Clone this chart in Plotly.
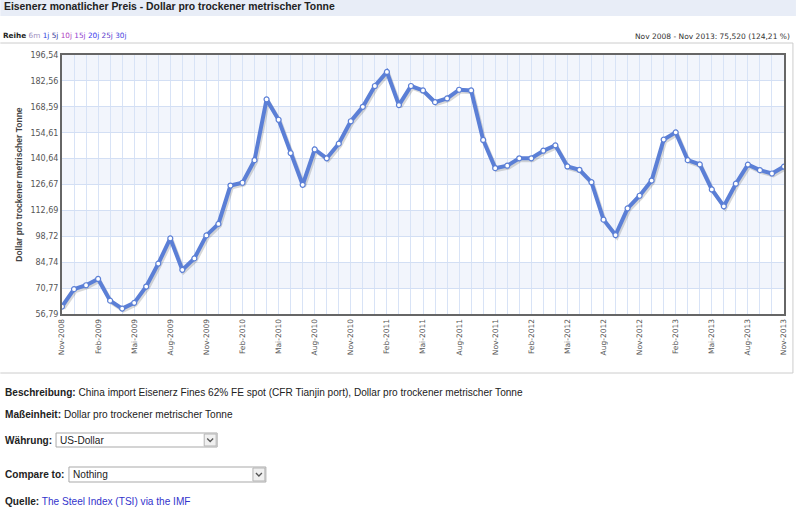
import plotly.graph_objects as go

# ---- data ----
month_names_de = ["Jan", "Feb", "Mär", "Apr", "Mai", "Jun", "Jul", "Aug", "Sep", "Okt", "Nov", "Dez"]
start_year, start_month = 2008, 11
n_months = 61
months = []
for i in range(n_months):
    m = (start_month - 1 + i) % 12
    y = start_year + (start_month - 1 + i) // 12
    months.append(f"{month_names_de[m]}-{y}")

prices = [60.80, 70.2, 72.3, 75.7, 64.0, 59.7, 62.8, 71.6, 84.0, 97.6, 80.6, 86.8,
          99.2, 105.4, 126.1, 127.6, 139.8, 172.6, 161.6, 143.6, 126.5, 145.6, 140.8,
          148.7, 160.8, 168.6, 179.8, 187.4, 169.5, 179.8, 177.4, 171.1, 173.1, 177.8,
          177.4, 150.7, 135.5, 136.8, 140.8, 140.8, 144.9, 147.8, 136.4, 134.6, 127.9,
          107.7, 99.4, 113.8, 120.6, 128.8, 150.9, 154.8, 139.8, 137.5, 124.0, 114.9,
          127.1, 137.4, 134.4, 132.6, 136.32]

y_ticks = [56.79, 70.77, 84.74, 98.72, 112.69, 126.67, 140.64, 154.61, 168.59, 182.56, 196.54]
y_ticktext = [f"{v:.2f}".replace(".", ",") for v in y_ticks]

x_idx = list(range(n_months))
label_step = 3
x_tickvals = x_idx[::label_step]
x_ticktext = months[::label_step]

# ---- layout geometry (pixels) ----
W, H = 800, 508
L, R, T, B = 62, 12, 55, 194
PW, PH = W - L - R, H - T - B


def px(x):
    return (x - L) / PW


def py(y):
    return (H - B - y) / PH


line_col = "#5b7fd6"
fig = go.Figure()

# shadow
fig.add_trace(go.Scatter(
    x=[v + 0.12 for v in x_idx], y=[p - 1.0 for p in prices], mode="lines",
    line=dict(color="rgba(60,60,60,0.2)", width=4), hoverinfo="skip", showlegend=False))
# main line
fig.add_trace(go.Scatter(
    x=x_idx, y=prices, mode="lines+markers",
    line=dict(color=line_col, width=4),
    marker=dict(size=5, color="white", line=dict(color=line_col, width=1.2)),
    text=months, hovertemplate="%{text}: %{y:.2f}<extra></extra>", showlegend=False))

shapes = []
# alternating horizontal bands
for i in range(len(y_ticks) - 1):
    if (len(y_ticks) - 2 - i) % 2 == 0:
        shapes.append(dict(type="rect", xref="paper", yref="y", x0=0, x1=1,
                           y0=y_ticks[i], y1=y_ticks[i + 1], fillcolor="#f2f5fc",
                           line=dict(width=0), layer="below"))
# title bar
shapes.append(dict(type="rect", xref="paper", yref="paper", x0=px(0), x1=px(W),
                   y0=py(16), y1=py(0), fillcolor="#e8edf7", line=dict(width=0), layer="below"))
# container lines
gray = "#cccccc"
shapes.append(dict(type="line", xref="paper", yref="paper", x0=px(0), x1=px(797),
                   y0=py(43), y1=py(43), line=dict(color=gray, width=1)))
shapes.append(dict(type="line", xref="paper", yref="paper", x0=px(0), x1=px(797),
                   y0=py(373), y1=py(373), line=dict(color=gray, width=1)))
shapes.append(dict(type="line", xref="paper", yref="paper", x0=px(797), x1=px(797),
                   y0=py(43), y1=py(373), line=dict(color=gray, width=1)))


def dropdown(x0, x1, y0, y1):
    out = []
    out.append(dict(type="rect", xref="paper", yref="paper", x0=px(x0), x1=px(x1),
                    y0=py(y1), y1=py(y0), fillcolor="white", line=dict(color="#a9a9a9", width=1)))
    out.append(dict(type="rect", xref="paper", yref="paper", x0=px(x1 - 13), x1=px(x1 - 1),
                    y0=py(y1 - 1), y1=py(y0 + 1), fillcolor="#f0f0f0", line=dict(color="#b5b5b5", width=1)))
    cx = x1 - 7
    cy = (y0 + y1) / 2
    path = f"M {px(cx-3)} {py(cy-1.5)} L {px(cx)} {py(cy+1.5)} L {px(cx+3)} {py(cy-1.5)}"
    out.append(dict(type="path", xref="paper", yref="paper", path=path,
                    line=dict(color="#555555", width=1.3)))
    return out


shapes += dropdown(56, 218, 433, 447)
shapes += dropdown(69, 267, 467, 482)

txt = "Liberation Sans"
annotations = []


def ann(x, y, text, size=11, color="#222222", family=txt, xanchor="left"):
    annotations.append(dict(x=px(x), y=py(y), xref="paper", yref="paper", text=text,
                            showarrow=False, xanchor=xanchor, yanchor="middle",
                            font=dict(family=family, size=size, color=color)))


ann(2, 7, "<b>Eisenerz monatlicher Preis - Dollar pro trockener metrischer Tonne</b>", size=10.4, color="#222222")
links = ("<b>Reihe</b> <span style='color:#a090c0'>6m</span> <span style='color:#3344dd'>1j</span> "
         "<span style='color:#333399'>5j</span> <span style='color:#b040c0'>10j</span> "
         "<span style='color:#9040d0'>15j</span> <span style='color:#3a3aee'>20j</span> "
         "<span style='color:#6040cc'>25j</span> <span style='color:#4848e0'>30j</span>")
ann(1, 36, links, size=7.3, color="#222222", family="DejaVu Sans")
ann(796, 37, "Nov 2008 - Nov 2013: 75,520 (124,21 %)", size=7.5, color="#333333",
    family="DejaVu Sans", xanchor="right")
annotations.append(dict(x=px(18), y=py((55 + 314) / 2), xref="paper", yref="paper",
                        text="<b>Dollar pro trockener metrischer Tonne</b>", textangle=-90,
                        showarrow=False, xanchor="center", yanchor="middle",
                        font=dict(family=txt, size=8.5, color="#444444")))

ann(3, 392, "<b>Beschreibung:</b> China import Eisenerz Fines 62% FE spot (CFR Tianjin port), Dollar pro trockener metrischer Tonne", size=10.1)
ann(3, 414, "<b>Maßeinheit:</b> Dollar pro trockener metrischer Tonne", size=10.1)
ann(3, 440, "<b>Währung:</b>", size=10.1)
ann(58, 440, "US-Dollar", size=10.1)
ann(3, 474, "<b>Compare to:</b>", size=10.1)
ann(71, 474, "Nothing", size=10.1)
ann(3, 501, "<b>Quelle:</b> <span style='color:#3333cc'>The Steel Index (TSI) via the IMF</span>", size=10.1)

fig.update_layout(
    width=W, height=H,
    margin=dict(l=L, r=R, t=T, b=B, pad=0),
    paper_bgcolor="white", plot_bgcolor="white",
    shapes=shapes, annotations=annotations,
    xaxis=dict(range=[0, n_months - 1], tickmode="array", tickvals=x_tickvals, ticktext=x_ticktext,
               tickangle=-90, showgrid=True, gridcolor="#d8e3f6", gridwidth=1,
               minor=dict(dtick=1, tick0=0, showgrid=True, gridcolor="#d8e3f6", gridwidth=1),
               showline=True, linecolor="#666666", linewidth=2, mirror=True, zeroline=False,
               ticks="", tickfont=dict(family="DejaVu Sans", size=7.5, color="#555555")),
    yaxis=dict(range=[y_ticks[0], y_ticks[-1]], tickmode="array", tickvals=y_ticks, ticktext=y_ticktext,
               showgrid=True, gridcolor="#d3dff4", gridwidth=1,
               showline=True, linecolor="#666666", linewidth=2, mirror=True, zeroline=False,
               ticks="", tickfont=dict(family="DejaVu Sans", size=8, color="#555555")),
)

fig.write_html("out.html", config={"displayModeBar": False},
               post_script="document.body.style.margin='0';document.body.style.overflow='hidden';")
